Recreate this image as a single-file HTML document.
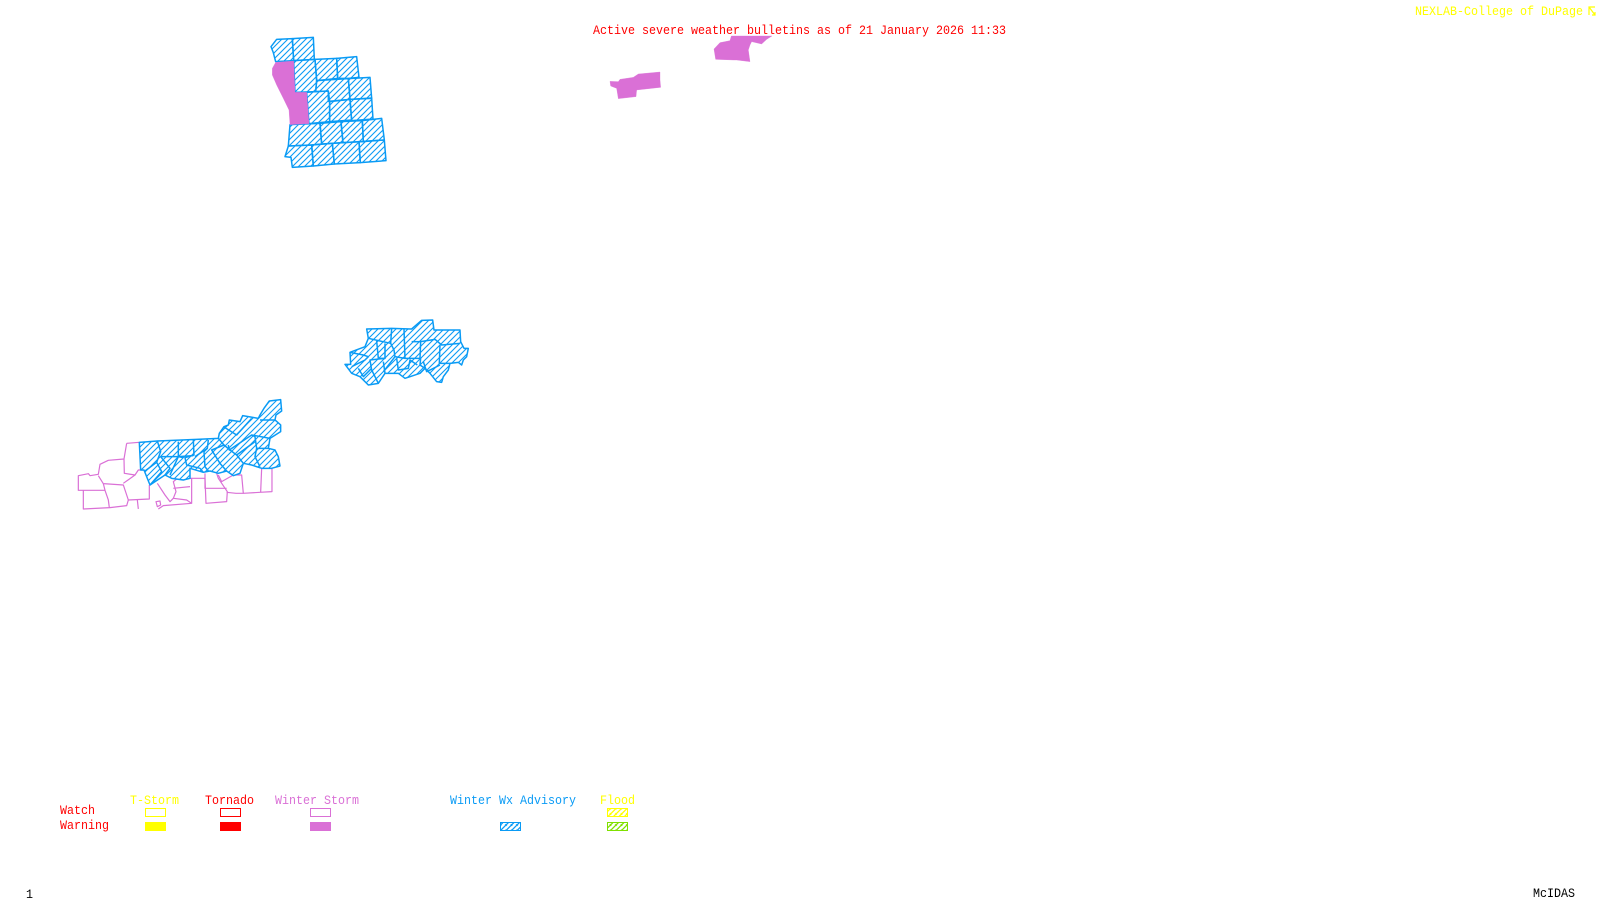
<!DOCTYPE html>
<html>
<head>
<meta charset="utf-8">
<style>
html,body{margin:0;padding:0;background:#fff;width:1600px;height:900px;overflow:hidden}
svg{display:block}
text{font-family:"Liberation Mono",monospace;font-size:13.3px}
</style>
</head>
<body>
<svg width="1600" height="900" viewBox="0 0 1600 900" xmlns="http://www.w3.org/2000/svg">
<defs>
<pattern id="hb" patternUnits="userSpaceOnUse" width="5.5" height="5.5">
<path d="M-1 1.5L1.5 -1M0 5.5L5.5 0M4 6.5L6.5 4" stroke="#0a9bf5" stroke-width="1.3" fill="none"/>
</pattern>
<pattern id="hz" patternUnits="userSpaceOnUse" width="18" height="18">
<path d="M-3 3L3 -3M0 18L18 0M15 21L21 15" stroke="#0a9bf5" stroke-width="3.4" fill="none"/>
</pattern>
<pattern id="hy" patternUnits="userSpaceOnUse" width="5.5" height="5.5">
<path d="M-1 1.5L1.5 -1M0 5.5L5.5 0M4 6.5L6.5 4" stroke="#ffff00" stroke-width="1.3" fill="none"/>
</pattern>
<pattern id="hg" patternUnits="userSpaceOnUse" width="5.5" height="5.5">
<path d="M-1 1.5L1.5 -1M0 5.5L5.5 0M4 6.5L6.5 4" stroke="#7fe000" stroke-width="1.3" fill="none"/>
</pattern>
</defs>

<!-- Northern group -->
<g transform="translate(255 30) scale(.3333)" fill="url(#hz)" stroke="#0a9bf5" stroke-width="4.5" stroke-linejoin="round">
<polygon points="48,50 65,28 112,26 116,92 62,95 55,68"/>
<polygon points="112,26 175,22 178,88 116,92"/>
<polygon points="116,92 180,88 185,152 182,185 120,187"/>
<polygon points="180,88 245,85 248,145 185,152"/>
<polygon points="245,85 305,80 312,142 280,145 248,145"/>
<polygon points="155,187 182,185 220,183 224,215 224,275 162,281"/>
<polygon points="185,152 280,146 285,208 220,214 220,183 182,185"/>
<polygon points="280,146 345,142 350,205 285,208"/>
<polygon points="224,215 285,208 290,270 224,275"/>
<polygon points="285,208 350,204 354,267 290,272"/>
<polygon points="105,284 195,280 200,342 170,345 100,348 103,310"/>
<polygon points="195,280 258,275 264,338 200,342"/>
<polygon points="258,275 322,272 325,335 264,338"/>
<polygon points="322,272 380,265 388,330 325,335"/>
<polygon points="100,348 170,345 175,408 112,412 108,382 90,380"/>
<polygon points="170,345 232,340 238,402 175,408"/>
<polygon points="232,340 312,335 316,398 238,402"/>
<polygon points="312,335 388,330 393,392 316,398"/>
<polygon points="62,97 116,93 120,187 155,187 162,281 105,284 102,240 85,205 65,165 52,135 52,115" fill="#da70d6" stroke="#da70d6" stroke-width="1"/>
</g>

<!-- Top purple warnings -->
<g transform="translate(570 0) scale(.3333)" fill="#da70d6" stroke="#da70d6" stroke-width="1">
<polygon points="432,147 450,128 480,122 484,108 606,108 590,118 575,132 545,125 540,135 535,150 540,185 500,180 490,180 437,178"/>
<polygon points="120,244 145,245 150,238 190,232 205,222 270,216 270,240 272,262 200,270 198,290 145,296 140,265 122,258"/>
</g>

<!-- Middle group -->
<g transform="translate(330 305) scale(.3333)" fill="none" stroke="#0a9bf5" stroke-width="4.5" stroke-linejoin="round">
<polygon fill="url(#hz)" points="110,72 185,70 242,72 245,72 275,46 308,45 312,75 390,75 392,110 402,130 415,130 410,155 400,165 395,180 385,172 360,175 355,195 340,215 335,232 320,230 300,205 285,190 270,205 240,215 225,220 205,205 165,205 145,235 115,240 90,215 65,205 45,178 62,178 60,142 105,125 115,100"/>
<polyline points="185,70 182,115 150,108 115,100"/>
<polyline points="222,72 225,160 270,160 272,110 315,103 335,120 390,115"/>
<polyline points="245,110 272,110"/>
<polyline points="182,115 192,135 195,155 225,160"/>
<polyline points="272,160 270,180 285,190"/>
<polyline points="330,120 328,175 360,175"/>
<polyline points="60,142 100,150 115,155 105,165 65,185"/>
<polyline points="140,108 145,160 165,160 165,115"/>
<polyline points="165,160 120,165 125,195 145,235"/>
<polyline points="195,155 160,200"/>
<polyline points="200,160 205,195 235,190 240,165 262,180"/>
<polyline points="280,170 290,200 330,180"/>
<polyline points="85,190 100,215 125,190"/>
<polyline points="165,205 160,170"/>
</g>

<!-- Southern group -->
<g transform="translate(70 385) scale(.3333)" fill="none" stroke-linejoin="round">
<g stroke="#da70d6" stroke-width="3.6">
<polyline points="170,175 208,172"/>
<polyline points="170,175 162,222 115,226 90,238 85,268 60,272 55,266 25,272 25,316 105,316"/>
<polyline points="40,316 40,372 120,368 170,362 175,345 160,300 100,296 85,272"/>
<polyline points="100,296 105,316 115,345 118,368"/>
<polyline points="162,222 163,265 195,270 205,255 222,255"/>
<polyline points="195,270 160,295"/>
<polyline points="175,345 238,342 238,300"/>
<polyline points="202,345 205,372"/>
<polygon points="258,350 270,348 272,360 262,365"/>
<polyline points="265,372 280,362 365,355 365,280 320,282 310,290 318,320 310,340 350,345 365,355"/>
<polyline points="262,295 285,330 300,350 310,340"/>
<polyline points="310,310 360,305"/>
<polyline points="365,280 405,280 408,355 470,350 472,320 445,280 440,265"/>
<polyline points="405,265 405,310 470,310"/>
<polyline points="445,270 455,290 490,270 515,270 520,325 570,322 606,320 606,250 575,250 572,322"/>
<polyline points="470,322 498,325 520,325"/>
</g>
<g stroke="#0a9bf5" stroke-width="4.5">
<polygon fill="#fff" stroke="none" points="208,172 262,168 380,163 445,160 448,145 462,125 475,120 478,105 510,110 518,92 565,100 570,90 582,70 598,48 632,44 635,78 618,90 615,105 632,120 632,140 600,160 595,190 615,195 625,215 630,243 605,250 575,250 545,240 520,235 510,265 490,272 470,258 445,265 420,258 400,262 360,250 360,280 340,285 305,280 285,270 240,300 222,255 212,255"/>
<polygon fill="url(#hz)" points="208,172 262,168 380,163 445,160 448,145 462,125 475,120 478,105 510,110 518,92 565,100 570,90 582,70 598,48 632,44 635,78 618,90 615,105 632,120 632,140 600,160 595,190 615,195 625,215 630,243 605,250 575,250 545,240 520,235 510,265 490,272 470,258 445,265 420,258 400,262 360,250 360,280 340,285 305,280 285,270 240,300 222,255 212,255"/>
<polyline points="262,168 272,200 260,232 225,258"/>
<polyline points="272,215 325,215 370,212"/>
<polyline points="325,170 325,215 300,270"/>
<polyline points="370,165 372,210 345,218 350,240 390,250 400,262"/>
<polyline points="415,165 412,190 375,215"/>
<polyline points="412,190 402,200 405,245 415,258"/>
<polyline points="445,160 462,180 425,195 450,235 470,258"/>
<polyline points="462,180 480,195 500,210 520,235"/>
<polyline points="475,180 478,195 545,150 555,155 560,190 595,190"/>
<polyline points="500,210 555,170"/>
<polyline points="560,190 555,215 570,245"/>
<polyline points="460,125 500,150 545,100"/>
<polyline points="545,150 600,160"/>
<polyline points="570,105 615,105"/>
<polyline points="272,215 300,250 285,270"/>
<polyline points="325,215 340,218"/>
<polyline points="260,232 275,260 240,300"/>
</g>
</g>

<!-- Header text -->
<text x="593" y="34" fill="#ff0000" textLength="413" lengthAdjust="spacingAndGlyphs">Active severe weather bulletins as of 21 January 2026 11:33</text>
<text x="1415" y="15" fill="#ffff00" textLength="168" lengthAdjust="spacingAndGlyphs">NEXLAB-College of DuPage</text>
<g fill="none" stroke="#ffff00" stroke-width="1.2">
<path d="M1589 15V7H1595M1589 7L1595 15M1592 15H1595V12"/>
</g>

<!-- Legend -->
<text x="130" y="804" fill="#ffff00" textLength="49" lengthAdjust="spacingAndGlyphs">T-Storm</text>
<text x="205" y="804" fill="#ff0000" textLength="49" lengthAdjust="spacingAndGlyphs">Tornado</text>
<text x="275" y="804" fill="#da70d6" textLength="84" lengthAdjust="spacingAndGlyphs">Winter Storm</text>
<text x="450" y="804" fill="#0a9bf5" textLength="126" lengthAdjust="spacingAndGlyphs">Winter Wx Advisory</text>
<text x="600" y="804" fill="#ffff00" textLength="35" lengthAdjust="spacingAndGlyphs">Flood</text>
<text x="60" y="814" fill="#ff0000" textLength="35" lengthAdjust="spacingAndGlyphs">Watch</text>
<text x="60" y="829" fill="#ff0000" textLength="49" lengthAdjust="spacingAndGlyphs">Warning</text>

<g shape-rendering="crispEdges" stroke-width="1">
<rect x="145.5" y="808.5" width="20" height="8" fill="none" stroke="#ffff00"/>
<rect x="145" y="822" width="21" height="9" fill="#ffff00"/>
<rect x="220.5" y="808.5" width="20" height="8" fill="none" stroke="#ff0000"/>
<rect x="220" y="822" width="21" height="9" fill="#ff0000"/>
<rect x="310.5" y="808.5" width="20" height="8" fill="none" stroke="#da70d6"/>
<rect x="310" y="822" width="21" height="9" fill="#da70d6"/>
<rect x="500.5" y="822.5" width="20" height="8" fill="url(#hb)" stroke="#0a9bf5"/>
<rect x="607.5" y="808.5" width="20" height="8" fill="url(#hy)" stroke="#ffff00"/>
<rect x="607.5" y="822.5" width="20" height="8" fill="url(#hg)" stroke="#7fe000"/>
</g>

<!-- Footer -->
<text x="26" y="898" fill="#000" textLength="7" lengthAdjust="spacingAndGlyphs">1</text>
<text x="1533" y="897" fill="#000" textLength="42" lengthAdjust="spacingAndGlyphs">McIDAS</text>
</svg>
</body>
</html>
